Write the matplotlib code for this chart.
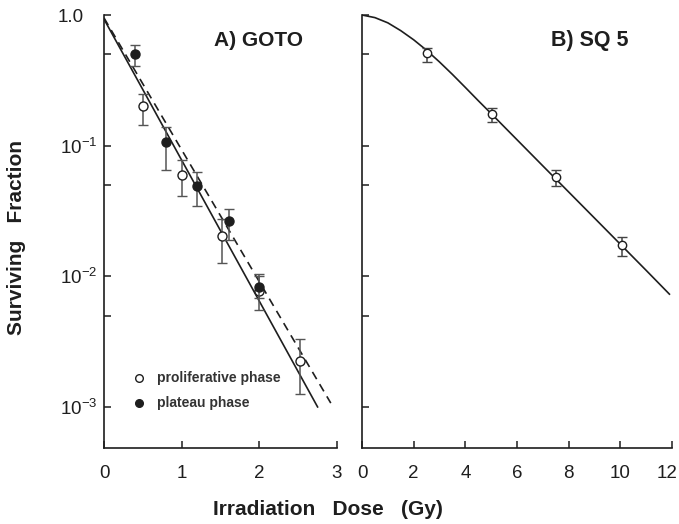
import matplotlib
matplotlib.use("Agg")
import matplotlib.pyplot as plt
import matplotlib.transforms as mtransforms
import numpy as np

plt.rcParams['font.family'] = ['Liberation Sans', 'DejaVu Sans']
plt.rcParams['mathtext.fontset'] = 'custom'
plt.rcParams['mathtext.rm'] = 'Liberation Sans'
plt.rcParams['mathtext.default'] = 'regular'

INK = '#1e1e1e'

# ---- Panel A: GOTO ----
prolif_dose = [0.50, 1.00, 1.52, 2.00, 2.52]
prolif_sf = [0.20, 0.060, 0.0202, 0.0077, 0.00226]
prolif_lo = [0.144, 0.041, 0.0127, 0.0055, 0.00126]
prolif_hi = [0.25, 0.078, 0.0276, 0.0100, 0.0033]

plateau_dose = [0.40, 0.80, 1.20, 1.61, 2.00]
plateau_sf = [0.507, 0.107, 0.0494, 0.0265, 0.0083]
plateau_lo = [0.405, 0.065, 0.0347, 0.019, 0.0068]
plateau_hi = [0.594, 0.14, 0.063, 0.0328, 0.0104]

prolif_fit_dose = [0.0, 2.75]
prolif_fit_sf = [0.93, 0.0010]
plateau_fit_dose = [0.0, 2.92]
plateau_fit_sf = [0.95, 0.00107]

# ---- Panel B: SQ 5 ----
sq5_dose = [2.5, 5.03, 7.5, 10.07]
sq5_sf = [0.51, 0.175, 0.058, 0.0174]
sq5_lo = [0.44, 0.153, 0.0488, 0.0144]
sq5_hi = [0.56, 0.195, 0.0655, 0.020]

sq5_fit_dose = [0.0, 0.5, 1.0, 1.5, 2.0, 2.5, 3.0, 3.5, 4.0, 4.5, 5.0, 6.0, 7.0, 8.0, 9.0, 10.0, 11.0, 11.9]
sq5_fit_sf = [1.0, 0.955, 0.871, 0.759, 0.646, 0.537, 0.437, 0.351, 0.279, 0.221, 0.176,
              0.111, 0.070, 0.0442, 0.0279, 0.0176, 0.0111, 0.0073]

yticks = [1.0, 0.1, 0.01, 0.001]
yticklabels = ['1.0', r'$10^{-1}$', r'$10^{-2}$', r'$10^{-3}$']
yminor = [0.5, 0.05, 0.005]

fig = plt.figure(figsize=(6.79, 5.24), dpi=100)
W, H = 679, 524
bottom_px, top_px = 448, 15
axA = fig.add_axes([104 / W, (H - bottom_px) / H, (337 - 104) / W, (bottom_px - top_px) / H])
axB = fig.add_axes([362 / W, (H - bottom_px) / H, (672 - 362) / W, (bottom_px - top_px) / H])

for ax in (axA, axB):
    ax.set_yscale('log')
    ax.set_ylim(4.85e-4, 1.0)
    for s in ('top', 'right'):
        ax.spines[s].set_visible(False)
    for s in ('left', 'bottom'):
        ax.spines[s].set_color(INK)
        ax.spines[s].set_linewidth(1.2)
    ax.set_yticks(yticks + yminor)
    ax.yaxis.set_minor_locator(matplotlib.ticker.NullLocator())
    ax.tick_params(direction='in', length=5, width=1.1, color=INK, labelsize=13.5,
                   labelcolor=INK)
    ax.tick_params(axis='x', pad=12)
    ax.tick_params(axis='y', pad=4.5)

axA.set_yticklabels(yticklabels + ['', '', ''])
axB.set_yticklabels([''] * 7)

# Panel A
axA.set_xlim(0, 3)
axA.set_xticks([0, 1, 2, 3])
axA.plot(prolif_fit_dose, prolif_fit_sf, '-', color=INK, lw=1.2)
axA.plot(plateau_fit_dose, plateau_fit_sf, '--', color=INK, lw=1.2, dashes=(5, 3.5))

pe = [np.array(prolif_sf) - np.array(prolif_lo), np.array(prolif_hi) - np.array(prolif_sf)]
axA.errorbar(prolif_dose, prolif_sf, yerr=pe, fmt='o', mfc='white', mec=INK, mew=1.0,
             ms=6.5, ecolor='#555555', elinewidth=1.1, capsize=3.5, capthick=1.1,
             zorder=3)
qe = [np.array(plateau_sf) - np.array(plateau_lo), np.array(plateau_hi) - np.array(plateau_sf)]
axA.errorbar(plateau_dose, plateau_sf, yerr=qe, fmt='o', mfc=INK, mec=INK, mew=1.0,
             ms=6.5, ecolor='#555555', elinewidth=1.1, capsize=3.5, capthick=1.1,
             zorder=4)

axA.text(0.47, 0.94, 'A) GOTO', transform=axA.transAxes, fontsize=15, fontweight='bold',
         color=INK, ha='left', va='center')

# Legend (manual)
leg_y1 = 10 ** (-(378.3 - 15.5) / 130.5)
leg_y2 = 10 ** (-(403 - 15.5) / 130.5)
axA.plot([0.45], [leg_y1], 'o', mfc='white', mec=INK, ms=5.5, mew=1.0)
axA.plot([0.45], [leg_y2], 'o', mfc=INK, mec=INK, ms=5.5, mew=1.0)
axA.text(0.68, leg_y1, 'proliferative phase', fontsize=10,
         fontweight='bold', color='#333333', va='center', ha='left')
axA.text(0.68, leg_y2, 'plateau phase', fontsize=10,
         fontweight='bold', color='#333333', va='center', ha='left')

# Panel B
axB.set_xlim(0, 12)
axB.set_xticks([0, 2, 4, 6, 8, 10, 12])
axB.plot(sq5_fit_dose, sq5_fit_sf, '-', color=INK, lw=1.2)
se = [np.array(sq5_sf) - np.array(sq5_lo), np.array(sq5_hi) - np.array(sq5_sf)]
axB.errorbar(sq5_dose, sq5_sf, yerr=se, fmt='o', mfc='white', mec=INK, mew=1.0,
             ms=6.0, ecolor='#444444', elinewidth=1.1, capsize=3.5, capthick=1.1, zorder=3)
axB.text(0.61, 0.94, 'B) SQ 5', transform=axB.transAxes, fontsize=15.5, fontweight='bold',
         color=INK, ha='left', va='center')

fig.canvas.draw()
# small label offsets as in the original
lbl = axA.get_yticklabels()[0]
lbl.set_transform(lbl.get_transform() + mtransforms.ScaledTranslation(-14 / 100, 0, fig.dpi_scale_trans))
xl = axB.get_xticklabels()[-1]
xl.set_transform(xl.get_transform() + mtransforms.ScaledTranslation(-5 / 100, 0, fig.dpi_scale_trans))

fig.text(17 / W, 1 - 238 / H, 'Surviving   Fraction', rotation=90, fontsize=15,
         fontweight='bold', color=INK, ha='center', va='center')
fig.text(328 / W, 1 - 515 / H, 'Irradiation   Dose   (Gy)', fontsize=15,
         fontweight='bold', color=INK, ha='center', va='baseline')

fig.savefig('out.png', dpi=100)
